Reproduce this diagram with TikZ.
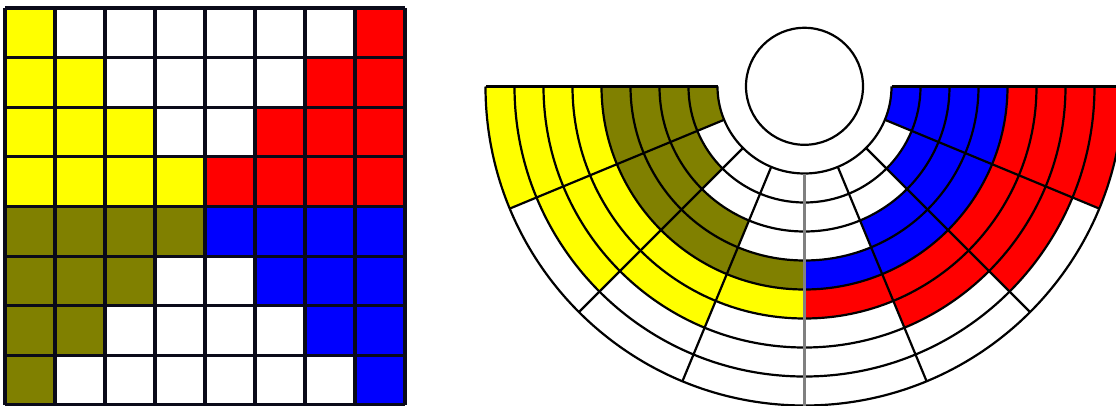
\documentclass[tikz,border=0pt]{standalone}
\definecolor{cY}{RGB}{255,255,0}
\definecolor{cO}{RGB}{128,128,0}
\definecolor{cB}{RGB}{0,0,255}
\definecolor{cR}{RGB}{255,0,0}
\definecolor{cW}{RGB}{255,255,255}
\definecolor{gridline}{RGB}{10,10,25}
\tikzset{
  gridrule/.style={draw=gridline, line width=3.2pt},
  seatrule/.style={draw=black, line width=2.2pt},
  midrule/.style={draw=black!50, line width=2.6pt},
}
\begin{document}
\begin{tikzpicture}[x=1pt,y=1pt]
\useasboundingbox (0,0) rectangle (1116,405);
\clip (0,0) rectangle (1116,405);
\fill[white] (0,0) rectangle (1116,405);
% ---- seat data: rows top to bottom, columns left to right
\foreach \r/\lst in {
  1/{cY,cW,cW,cW,cW,cW,cW,cR},
  2/{cY,cY,cW,cW,cW,cW,cR,cR},
  3/{cY,cY,cY,cW,cW,cR,cR,cR},
  4/{cY,cY,cY,cY,cR,cR,cR,cR},
  5/{cO,cO,cO,cO,cB,cB,cB,cB},
  6/{cO,cO,cO,cW,cW,cB,cB,cB},
  7/{cO,cO,cW,cW,cW,cW,cB,cB},
  8/{cO,cW,cW,cW,cW,cW,cW,cB}} {
  \foreach \c [count=\j] in \lst {
    % square grid cell
    \fill[\c] ({5+50*(\j-1)},{397-49.625*\r}) rectangle ++(50,49.625);
    % hemicycle seat
    \begin{scope}[shift={(804.5,318.5)}]
      \pgfmathsetmacro{\rin}{87+29*(8-\r)}
      \pgfmathsetmacro{\rout}{\rin+29}
      \pgfmathsetmacro{\aone}{180+22.5*(\j-1)}
      \pgfmathsetmacro{\atwo}{\aone+22.5}
      \fill[\c] (\aone:\rin pt) arc[start angle=\aone, end angle=\atwo, radius=\rin pt]
        -- (\atwo:\rout pt) arc[start angle=\atwo, end angle=\aone, radius=\rout pt] -- cycle;
    \end{scope}
  }
}
% ---- square grid lines
\foreach \j in {0,...,8} {
  \draw[gridrule] ({5+50*\j},0) -- ({5+50*\j},397);
}
\foreach \i in {0,...,8} {
  \draw[gridrule] (5,{397-49.625*\i}) -- (405,{397-49.625*\i});
}
% ---- hemicycle lines
\begin{scope}[shift={(804.5,318.5)}]
  \foreach \k in {0,...,8} {
    \pgfmathsetmacro{\rr}{87+29*\k}
    \draw[seatrule] (180:\rr pt) arc[start angle=180, end angle=360, radius=\rr pt];
  }
  \foreach \j in {0,1,2,3,5,6,7,8} {
    \draw[seatrule] ({180+22.5*\j}:87pt) -- ({180+22.5*\j}:319pt);
  }
  \draw[midrule] (270:87pt) -- (270:319pt);
  \draw[seatrule, fill=white] (0,0.2) circle[radius=58.5pt];
\end{scope}
\end{tikzpicture}
\end{document}
